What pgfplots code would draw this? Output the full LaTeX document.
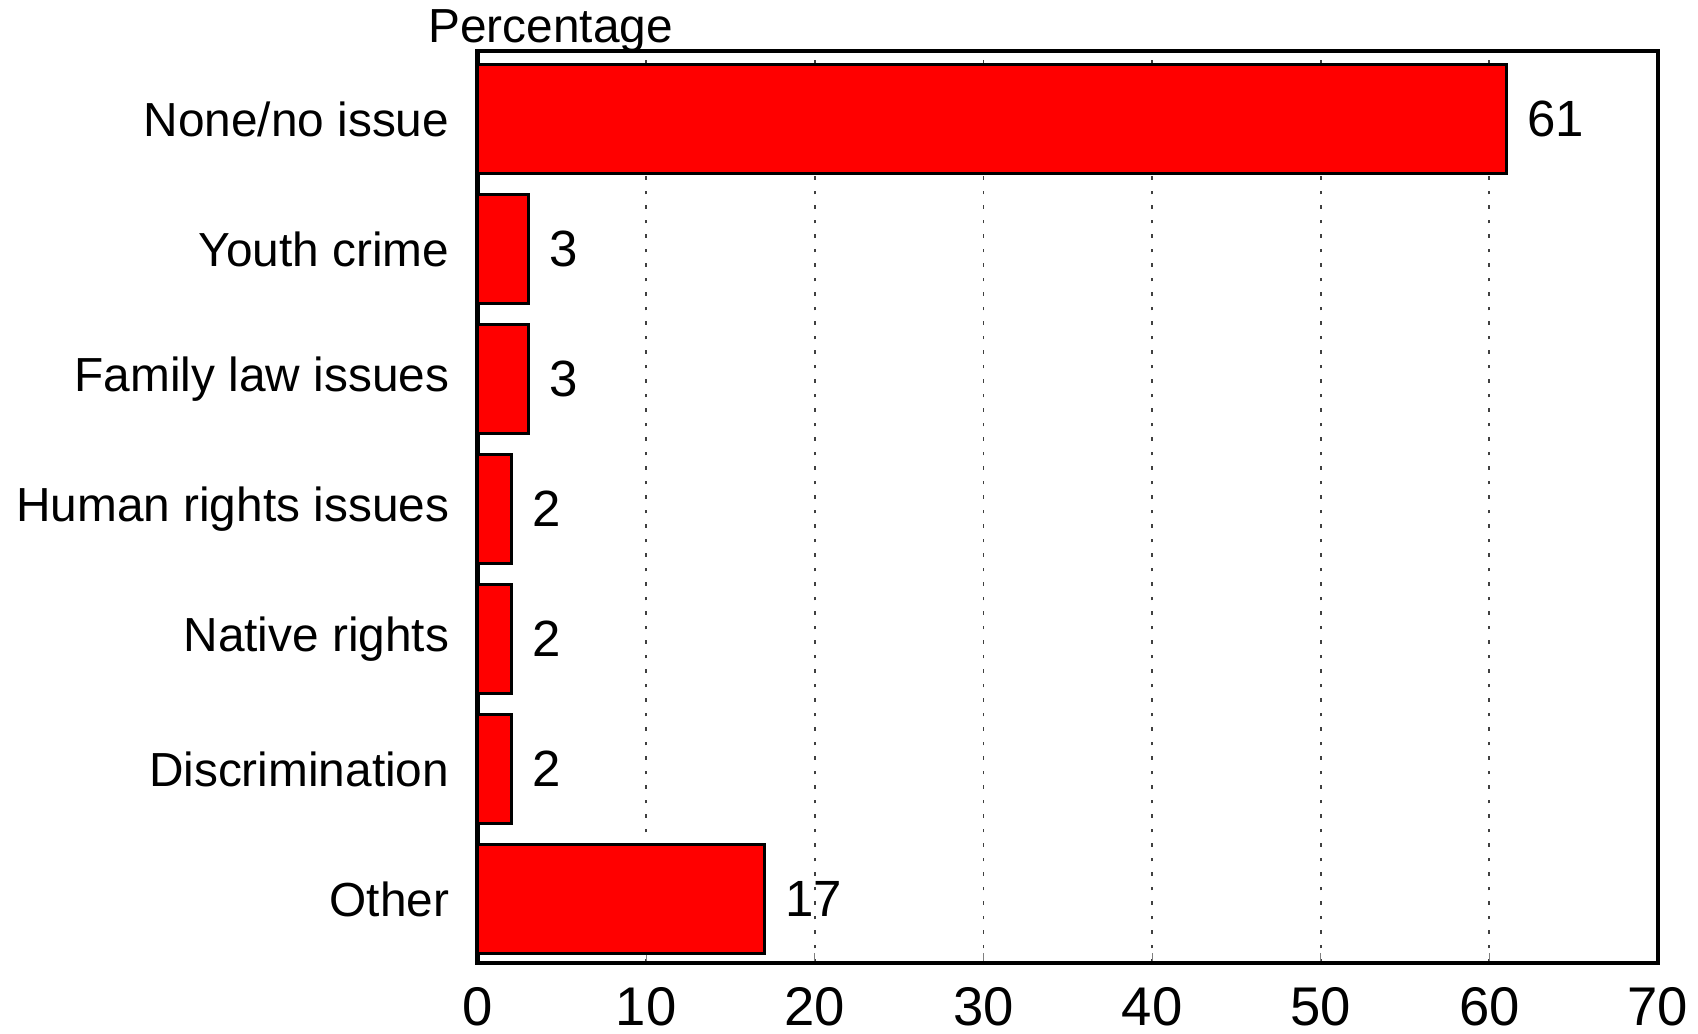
\documentclass[border=0pt]{standalone}
\usepackage{pgfplots}
\pgfplotsset{compat=1.18}
\usepackage{fontspec}
\setmainfont{Liberation Sans}
\begin{document}
\begin{tikzpicture}
\useasboundingbox (-47.76mm,-7.12mm) rectangle (122.04mm,96.28mm);
\begin{axis}[
  at={(0,0)}, anchor=south west,
  scale only axis,
  width=118.04mm, height=91.19mm,
  xbar, bar width=0.84,
  xmin=0, xmax=70,
  ymin=-0.49, ymax=6.525,
  xtick={0,10,...,70},
  ytick={0,1,2,3,4,5,6},
  yticklabels={Other,Discrimination,Native rights,Human rights issues,Family law issues,Youth crime,None/no issue},
  xtick pos=bottom, tick align=inside,
  major tick length=1mm,
  ytick style={draw=none},
  xmajorgrids, grid style={dash pattern=on 0.35mm off 1.1mm, black!75, line width=0.5pt},
  axis line style={line width=1.2pt},
  /pgf/number format/assume math mode=true,
  xticklabel style={font=\fontsize{15.5}{18}\selectfont, anchor=base, yshift=-6.3mm},
  yticklabel style={font=\fontsize{13.6}{16}\selectfont, xshift=-1.6mm},
  nodes near coords,
  nodes near coords style={font=\fontsize{14.5}{17}\selectfont, anchor=west, xshift=0.8mm},
  clip=false,
]
\addplot[fill=red, draw=black, line width=0.8pt] coordinates {
  (17,0) (2,1) (2,2) (2,3) (3,4) (3,5) (61,6)
};
\node[anchor=base west, font=\fontsize{13.6}{16}\selectfont, inner sep=0pt] at ([xshift=-5.0mm, yshift=0.8mm]rel axis cs:0,1) {Percentage};
\end{axis}
\end{tikzpicture}
\end{document}
